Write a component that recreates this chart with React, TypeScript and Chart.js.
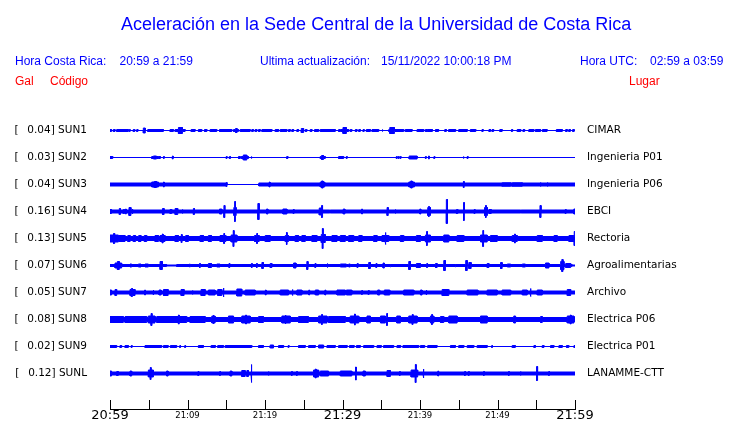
import React, { useEffect, useRef } from 'react';
import { Chart, registerables } from 'chart.js';

Chart.register(...registerables);

type Seg = [number, number, number]; // [start minute, end minute, half amplitude]

const STATIONS = ['SUN1', 'SUN2', 'SUN3', 'SUN4', 'SUN5', 'SUN6', 'SUN7', 'SUN8', 'SUN9', 'SUNL'];
const PEAK_GAL = ['0.04', '0.03', '0.04', '0.16', '0.13', '0.07', '0.05', '0.08', '0.02', '0.12'];
const PLACES = ['CIMAR', 'Ingenieria P01', 'Ingenieria P06', 'EBCI', 'Rectoria', 'Agroalimentarias', 'Archivo', 'Electrica P06', 'Electrica P01', 'LANAMME-CTT'];

const TICK_MINUTES = [0, 5, 10, 15, 20, 25, 30, 35, 40, 45, 50, 55, 60];
const TICK_LABELS = ['20:59', '', '21:09', '', '21:19', '', '21:29', '', '21:39', '', '21:49', '', '21:59'];
const MAJOR_LABELS = ['20:59', '21:29', '21:59'];

// Background noise level of each trace
const SUN1_FLOOR: Seg[] = [[0, 60, 0]];
const SUN2_FLOOR: Seg[] = [[0, 60, 0]];
const SUN3_FLOOR: Seg[] = [[0, 15.1, 1.5], [15.1, 19.2, 0], [19.2, 60, 1.5]];
const SUN4_FLOOR: Seg[] = [[0, 60, 1.5]];
const SUN5_FLOOR: Seg[] = [[0, 60, 2]];
const SUN6_FLOOR: Seg[] = [[0, 7.3, 1], [7.3, 8.6, 0.5], [8.6, 59.6, 1], [59.6, 60, 0.5]];
const SUN7_FLOOR: Seg[] = [[0, 60, 1.5]];
const SUN8_FLOOR: Seg[] = [[0, 60, 2]];
const SUN9_FLOOR: Seg[] = [[0, 60, 0]];
const SUNL_FLOOR: Seg[] = [[0, 60, 1.5]];

// Bursts read from the record
const SUN1_BURSTS: Seg[] = [
  [0.0, 0.2, 1], [0.43, 0.65, 1], [0.86, 2.37, 1], [2.5, 2.6, 1], [3.0, 3.2, 1], [3.45, 3.6, 1], [4.3, 4.55, 2.5],
  [4.87, 6.89, 1], [7.75, 8.18, 1], [8.4, 9.69, 1], [8.83, 9.35, 3], [10.47, 10.98, 1], [11.41, 11.84, 1],
  [12.19, 12.5, 1], [12.92, 13.78, 1], [14.13, 15.72, 1], [15.94, 16.58, 1], [16.2, 16.4, 2], [16.8, 18.09, 1],
  [18.3, 18.5, 1], [18.73, 18.95, 1], [19.17, 19.38, 1], [19.6, 20.89, 1], [21.32, 21.75, 1], [21.97, 22.83, 1],
  [23.04, 23.26, 1], [23.47, 23.69, 1], [24.12, 24.33, 1], [24.68, 24.98, 2], [25.2, 25.4, 1], [25.84, 26.06, 1],
  [26.4, 26.92, 1], [27.13, 29.07, 1], [29.5, 29.72, 1], [29.72, 30.8, 1], [30.06, 30.5, 3], [31.0, 31.2, 1],
  [31.66, 31.87, 1], [32.1, 32.3, 1], [32.65, 32.8, 1], [33.08, 33.6, 1], [33.81, 34.67, 1], [35.1, 35.2, 1],
  [35.97, 37.9, 1], [36.1, 36.7, 3], [38.1, 38.98, 1], [39.63, 40.49, 1], [40.7, 40.9, 1], [40.95, 41.6, 1],
  [42.0, 42.4, 1], [43.2, 43.4, 1], [43.7, 44.6, 1], [45.0, 46.1, 1], [46.5, 47.2, 1], [48.0, 48.15, 1],
  [48.9, 49.1, 1], [49.3, 49.5, 1], [50.3, 50.6, 1], [51.8, 51.95, 1], [52.55, 53.0, 1], [53.3, 53.5, 1],
  [54.05, 54.7, 1], [54.9, 55.56, 1], [55.8, 56.4, 1], [57.6, 58.36, 1], [58.8, 59.0, 1], [59.2, 59.4, 1], [59.7, 59.9, 1],
];
const SUN2_BURSTS: Seg[] = [
  [0.0, 0.35, 1], [5.38, 6.25, 1], [5.6, 6.0, 1.5], [6.3, 6.5, 1], [6.9, 7.0, 1], [8.05, 8.15, 1.5], [15.0, 15.1, 1],
  [15.4, 15.55, 1], [16.58, 16.8, 1], [16.93, 17.87, 1], [17.2, 17.65, 2.5], [18.2, 18.3, 1], [22.8, 22.95, 1],
  [27.13, 27.78, 1], [27.3, 27.55, 2], [29.5, 30.15, 1], [30.5, 30.6, 1], [36.95, 37.05, 1], [37.2, 37.3, 1],
  [37.45, 37.55, 1], [38.6, 39.63, 1.5], [40.7, 40.8, 1], [41.1, 41.2, 1.5], [41.8, 41.9, 1], [45.57, 45.66, 1], [46.1, 46.2, 1],
];
const SUN3_BURSTS: Seg[] = [
  [5.38, 6.25, 2.5], [5.7, 6.0, 3], [6.9, 7.0, 2.5], [15.0, 15.1, 2], [20.55, 20.65, 2.5], [27.13, 27.7, 2.5],
  [27.3, 27.5, 3.5], [38.55, 39.28, 2.5], [38.8, 39.0, 3.5], [45.6, 45.7, 3], [50.6, 51.7, 1.8], [51.9, 53.2, 1.8],
  [55.5, 55.6, 2], [56.4, 56.5, 2],
];
const SUN4_BURSTS: Seg[] = [
  [0.0, 0.2, 2], [1.2, 1.35, 3], [1.7, 1.9, 2], [2.0, 2.1, 2.5], [2.45, 2.7, 4], [2.85, 2.95, 2.5], [6.77, 6.98, 3],
  [7.75, 7.97, 2], [8.4, 8.74, 3], [9.3, 9.4, 2], [10.76, 10.9, 3], [14.13, 14.43, 2.5], [14.7, 14.82, 6],
  [15.98, 16.28, 4], [16.08, 16.18, 10], [19.08, 19.25, 8], [20.2, 20.37, 2.5], [22.31, 22.83, 2.5], [23.65, 23.75, 2],
  [27.0, 27.44, 3.5], [27.3, 27.4, 6], [28.35, 28.45, 1.5], [30.1, 30.3, 2.5], [32.47, 32.57, 2.5], [35.75, 35.9, 4],
  [36.78, 36.88, 2], [39.97, 40.1, 2.5], [41.0, 41.35, 4], [41.1, 41.2, 5], [43.4, 43.55, 12], [44.7, 44.88, 2],
  [45.62, 45.72, 9], [47.0, 47.1, 2], [48.33, 48.7, 4], [48.45, 48.55, 6], [48.9, 49.2, 2], [52.95, 53.05, 1.5],
  [55.48, 55.62, 6], [58.75, 58.85, 2], [59.85, 60, 2.5],
];
const SUN5_BURSTS: Seg[] = [
  [0.0, 1.08, 3.5], [0.45, 0.6, 5], [1.08, 1.94, 3], [2.3, 2.6, 3], [3.0, 3.3, 3], [3.7, 4.0, 3], [4.43, 4.74, 3],
  [5.81, 6.25, 3], [6.46, 7.1, 3], [6.75, 6.85, 4.5], [8.4, 8.83, 3], [9.2, 9.3, 4], [9.77, 10.12, 3],
  [11.63, 12.06, 3], [12.7, 13.1, 3], [14.2, 14.95, 3], [14.68, 14.78, 5], [15.63, 16.37, 3.5], [15.9, 16.0, 8],
  [18.65, 19.25, 3], [18.93, 19.03, 5], [20.03, 20.67, 3], [22.61, 23.04, 3], [22.77, 22.85, 6], [23.9, 24.33, 3],
  [24.76, 25.2, 3], [26.06, 26.7, 3], [27.26, 27.78, 4], [27.4, 27.5, 10], [28.64, 29.29, 3], [29.72, 30.36, 3],
  [30.8, 31.44, 3], [32.1, 32.52, 3], [34.03, 34.46, 3], [35.1, 35.97, 3], [35.5, 35.6, 6], [37.47, 37.9, 3],
  [39.54, 40.06, 3], [40.7, 41.35, 3.5], [40.85, 40.95, 7], [43.07, 43.72, 3.5], [44.79, 45.66, 3], [47.81, 48.67, 3.5],
  [48.1, 48.2, 8], [49.1, 49.96, 3], [51.9, 52.55, 3], [52.2, 52.3, 4.5], [55.13, 55.78, 3], [57.3, 57.7, 3],
  [59.22, 59.85, 3], [59.9, 60, 7],
];
const SUN6_BURSTS: Seg[] = [
  [0.65, 1.5, 2.5], [0.95, 1.2, 4], [2.58, 2.8, 1.5], [3.66, 4.0, 1.5], [4.52, 4.95, 1.5], [6.46, 6.76, 4],
  [10.25, 10.35, 1.5], [11.55, 11.65, 2], [12.7, 13.1, 2], [13.78, 14.2, 1.5], [15.35, 15.45, 2], [18.25, 18.35, 2],
  [18.9, 19.0, 2], [19.6, 19.8, 3], [20.67, 20.89, 2], [23.69, 24.0, 2.5], [25.4, 25.55, 4], [26.45, 26.55, 2],
  [28.0, 28.1, 2], [29.72, 30.5, 1.5], [30.8, 31.0, 1.5], [31.9, 32.0, 2], [33.38, 33.6, 3], [34.32, 34.42, 2],
  [35.23, 35.4, 2.5], [36.13, 36.23, 1.5], [38.55, 38.77, 4], [39.54, 40.06, 2], [40.87, 40.97, 2], [42.0, 42.21, 2],
  [43.07, 43.28, 5], [44.53, 44.63, 1.5], [45.9, 46.1, 5], [46.3, 46.6, 3], [48.67, 48.89, 2], [50.39, 50.6, 3],
  [51.26, 51.7, 1.5], [53.2, 53.6, 1.5], [56.2, 56.64, 2.5], [58.15, 58.58, 4], [58.3, 58.45, 6], [58.8, 59.44, 2],
];
const SUN7_BURSTS: Seg[] = [
  [0, 0.2, 2.5], [0.65, 0.86, 3], [2.58, 3.23, 3], [2.75, 2.9, 4], [4.47, 4.57, 2.5], [5.55, 5.65, 2.5], [6.33, 6.6, 2.5],
  [6.9, 7.5, 3], [9.17, 9.56, 3], [10.6, 10.7, 2], [11.75, 12.28, 3], [12.7, 13.56, 2.5], [13.9, 14.43, 3],
  [14.6, 14.7, 4.5], [16.37, 17.0, 3.5], [17.44, 18.73, 2.5], [20.05, 20.15, 2.5], [21.97, 23.04, 2.5], [23.5, 23.6, 3],
  [24.12, 24.76, 2.5], [25.65, 25.75, 2.5], [26.49, 26.92, 2.5], [27.73, 27.83, 2.5], [29.29, 30.36, 2.5],
  [30.5, 31.2, 2.5], [32.47, 32.57, 2], [33.33, 33.43, 2], [34.54, 34.8, 2.5], [35.4, 36.1, 2.5], [37.9, 39.2, 2.5],
  [40.06, 40.27, 2.5], [40.78, 40.88, 2.5], [42.86, 43.72, 3], [46.09, 47.47, 2.5], [48.67, 49.96, 2.5],
  [50.6, 51.7, 2.5], [53.2, 53.84, 2.5], [54.22, 54.32, 4], [55.13, 55.78, 2.5], [59.0, 59.44, 3],
];
const SUN8_BURSTS: Seg[] = [
  [0, 1.72, 3], [1.94, 4.74, 3], [4.95, 5.81, 3.5], [5.3, 5.42, 6], [6.03, 9.9, 3], [8.83, 8.93, 4.5], [10.33, 12.28, 3],
  [13.14, 13.56, 3.5], [13.3, 13.4, 4.5], [15.29, 15.94, 3.5], [17.01, 18.09, 3.5], [17.5, 17.6, 4.5], [19.17, 19.8, 3],
  [22.18, 23.26, 3.5], [22.6, 22.7, 4.5], [24.33, 25.6, 3], [26.92, 28.0, 3.5], [27.3, 27.4, 5], [28.2, 30.36, 3],
  [31.0, 32.1, 3.5], [31.55, 31.65, 5.5], [33.16, 33.6, 3.5], [34.9, 35.53, 3.5], [35.7, 35.8, 6], [37.0, 37.47, 3.5],
  [38.55, 39.63, 3.5], [39.0, 39.1, 5], [41.35, 41.78, 3.5], [41.5, 41.6, 5], [42.64, 43.07, 3], [43.72, 44.79, 3.5],
  [47.81, 48.67, 3.5], [52.1, 52.33, 3.5], [55.56, 55.78, 3], [59.0, 59.87, 3.5], [59.4, 59.5, 4.5],
];
const SUN9_BURSTS: Seg[] = [
  [0, 0.86, 1], [1.29, 1.5, 1], [1.94, 2.37, 1], [2.75, 2.85, 1], [4.52, 6.67, 1], [6.9, 7.5, 1], [7.8, 8.6, 1],
  [9.0, 9.1, 1], [9.65, 9.75, 1], [11.41, 12.06, 1], [13.05, 13.6, 1], [13.9, 14.64, 1], [14.86, 18.3, 1],
  [19.17, 19.8, 1], [20.67, 21.1, 1.5], [21.75, 22.4, 1], [23.0, 23.1, 1], [24.33, 25.2, 1], [25.63, 26.49, 1],
  [26.92, 27.56, 1.5], [28.0, 29.07, 1], [29.5, 30.6, 1], [30.9, 31.5, 1], [31.8, 32.3, 1], [32.73, 34.03, 1],
  [34.46, 35.0, 1], [35.3, 36.6, 1], [37.04, 37.5, 1], [37.8, 39.84, 1], [40.06, 40.6, 1], [41.0, 42.2, 1],
  [43.93, 44.58, 1], [45.0, 45.66, 1], [46.1, 46.95, 1], [47.38, 48.67, 1], [49.25, 49.35, 1], [51.9, 52.3, 1],
  [54.7, 54.9, 1], [55.78, 55.99, 1], [56.85, 57.28, 1], [57.93, 58.36, 1], [58.9, 59.2, 1], [59.87, 60, 1],
];
const SUNL_BURSTS: Seg[] = [
  [0, 0.2, 2.5], [0.86, 1.08, 2], [2.58, 2.8, 2.5], [4.95, 5.6, 3.5], [5.2, 5.3, 6], [7.3, 7.5, 2.5], [11.35, 11.45, 2],
  [14.15, 14.25, 2], [15.5, 15.72, 2.5], [17.0, 17.44, 3], [17.66, 17.87, 3], [18.2, 18.3, 9], [20.41, 20.51, 2],
  [23.42, 23.52, 2], [24.07, 24.17, 2], [26.27, 26.92, 3.5], [26.5, 26.6, 4.5], [27.13, 28.2, 2.5], [29.72, 31.2, 2.5],
  [31.68, 31.78, 6.5], [32.65, 32.95, 2.5], [35.75, 36.18, 3], [37.35, 37.45, 2], [38.85, 39.7, 3.5], [39.4, 39.5, 9],
  [40.4, 40.5, 4.5], [42.3, 42.4, 2.5], [45.74, 45.87, 2], [46.25, 46.35, 2], [48.2, 48.3, 2], [51.42, 51.52, 2],
  [52.93, 53.03, 2], [55.04, 55.17, 7], [56.6, 56.7, 2],
];

const FLOORS = [SUN1_FLOOR, SUN2_FLOOR, SUN3_FLOOR, SUN4_FLOOR, SUN5_FLOOR, SUN6_FLOOR, SUN7_FLOOR, SUN8_FLOOR, SUN9_FLOOR, SUNL_FLOOR];
const BURSTS = [SUN1_BURSTS, SUN2_BURSTS, SUN3_BURSTS, SUN4_BURSTS, SUN5_BURSTS, SUN6_BURSTS, SUN7_BURSTS, SUN8_BURSTS, SUN9_BURSTS, SUNL_BURSTS];

const ROW = 27;
const T_MIN = 0;
const T_MAX = 60;
const BLUE = '#0000ff';
const FONT = 'DejaVu Sans';
const TICK_LEN = 9;

function envelope(floor: Seg[], bursts: Seg[]) {
  const all = [...floor, ...bursts];
  const bps = Array.from(new Set(all.flatMap((s) => [s[0], s[1]]).concat([T_MIN, T_MAX])))
    .filter((t) => t >= T_MIN && t <= T_MAX)
    .sort((a, b) => a - b);
  const pts: { x: number; a: number }[] = [];
  for (let i = 0; i < bps.length - 1; i++) {
    const t0 = bps[i];
    const t1 = bps[i + 1];
    const mid = (t0 + t1) / 2;
    let a = 0;
    for (const s of all) if (s[0] <= mid && mid < s[1]) a = Math.max(a, s[2]);
    pts.push({ x: t0, a }, { x: t1, a });
  }
  return pts;
}

const tickMarks = {
  id: 'tickMarks',
  afterDraw(chart: any) {
    const sx = chart.scales.x;
    const ctx = chart.ctx;
    const bottom = chart.chartArea.bottom;
    ctx.save();
    ctx.strokeStyle = '#000';
    ctx.lineWidth = 1;
    ctx.beginPath();
    for (const v of TICK_MINUTES) {
      const px = Math.round(sx.getPixelForValue(v)) + 0.5;
      ctx.moveTo(px, bottom - TICK_LEN);
      ctx.lineTo(px, bottom + 0.5);
    }
    ctx.stroke();
    ctx.restore();
  },
};

function SeismoChart() {
  const ref = useRef<HTMLCanvasElement | null>(null);
  useEffect(() => {
    if (!ref.current) return;
    const datasets: any[] = [];
    STATIONS.forEach((name, i) => {
      const base = i * ROW;
      const pts = envelope(FLOORS[i], BURSTS[i]);
      datasets.push({
        label: name + ' +',
        data: pts.map((p) => ({ x: p.x, y: base - p.a })),
        borderColor: BLUE,
        borderWidth: 1,
        pointRadius: 0,
        fill: false,
        tension: 0,
      });
      datasets.push({
        label: name + ' -',
        data: pts.map((p) => ({ x: p.x, y: base + p.a })),
        borderColor: BLUE,
        backgroundColor: BLUE,
        borderWidth: 1,
        pointRadius: 0,
        fill: '-1',
        tension: 0,
      });
    });
    const rowTicks = (s: any) => {
      s.ticks = STATIONS.map((_, i) => ({ value: i * ROW }));
    };
    const fitY = (w: number) => (s: any) => {
      s.width = w;
      s.paddingTop = 0;
      s.paddingBottom = 0;
    };
    const chart = new Chart(ref.current, {
      type: 'line',
      data: { datasets },
      plugins: [tickMarks],
      options: {
        responsive: false,
        animation: false,
        events: [],
        layout: { padding: { top: 115, left: 0, right: 0, bottom: 0 } },
        plugins: { legend: { display: false }, tooltip: { enabled: false }, title: { display: false } },
        scales: {
          x: {
            type: 'linear',
            min: T_MIN,
            max: T_MAX,
            grid: { display: false, drawTicks: false },
            border: { display: true, color: '#000', width: 1 },
            afterBuildTicks: (s: any) => {
              s.ticks = TICK_MINUTES.map((v) => ({ value: v }));
            },
            afterFit: (s: any) => {
              s.height = 14;
            },
            ticks: {
              autoSkip: false,
              maxRotation: 0,
              padding: 0,
              color: '#000',
              callback: (_v: any, i: number) => TICK_LABELS[i],
              font: (c: any) =>
                MAJOR_LABELS.includes(TICK_LABELS[c.index])
                  ? { family: FONT, size: 13, lineHeight: '14px' }
                  : { family: FONT, size: 8.5, lineHeight: '14px' },
            },
          },
          y: {
            type: 'linear',
            position: 'left',
            min: -15.5,
            max: 278.5,
            reverse: true,
            grid: { display: false, drawTicks: false },
            border: { display: false },
            afterBuildTicks: rowTicks,
            afterFit: fitY(110),
            ticks: {
              autoSkip: false,
              padding: 23,
              color: '#000',
              font: { family: FONT, size: 10.5 },
              callback: (_v: any, i: number) => `[  \u2009${PEAK_GAL[i]}] ${STATIONS[i]}`,
            },
          },
          y2: {
            type: 'linear',
            position: 'right',
            min: -15.5,
            max: 278.5,
            reverse: true,
            grid: { display: false, drawTicks: false },
            border: { display: false },
            afterBuildTicks: rowTicks,
            afterFit: fitY(165),
            ticks: {
              autoSkip: false,
              padding: 12,
              color: '#000',
              font: { family: FONT, size: 10.5 },
              callback: (_v: any, i: number) => PLACES[i],
            },
          },
        },
      } as any,
    });
    return () => chart.destroy();
  }, []);
  return <canvas ref={ref} width={740} height={423} style={{ display: 'block', position: 'absolute', left: 0, top: 0 }} />;
}

const txt = (left: number, top: number, size: number, color: string): React.CSSProperties => ({
  position: 'absolute',
  left,
  top,
  fontFamily: '"Liberation Sans", Arial, sans-serif',
  fontSize: size,
  color,
  whiteSpace: 'nowrap',
  lineHeight: 'normal',
});

export default function App() {
  return (
    <div style={{ position: 'fixed', left: 0, top: 0, width: 740, height: 423, background: '#fff', overflow: 'hidden' }}>
      <SeismoChart />
      <div style={txt(121, 13.5, 18, BLUE)}>Aceleración en la Sede Central de la Universidad de Costa Rica</div>
      <div style={txt(15, 54, 12, BLUE)}>Hora Costa Rica:</div>
      <div style={txt(119.5, 54, 12, BLUE)}>20:59 a 21:59</div>
      <div style={txt(260, 54, 12, BLUE)}>Ultima actualización:</div>
      <div style={txt(381, 54, 12, BLUE)}>15/11/2022 10:00:18 PM</div>
      <div style={txt(580, 54, 12, BLUE)}>Hora UTC:</div>
      <div style={txt(650, 54, 12, BLUE)}>02:59 a 03:59</div>
      <div style={txt(15, 74, 12, 'red')}>Gal</div>
      <div style={txt(50, 74, 12, 'red')}>Código</div>
      <div style={txt(629, 74, 12, 'red')}>Lugar</div>
    </div>
  );
}
